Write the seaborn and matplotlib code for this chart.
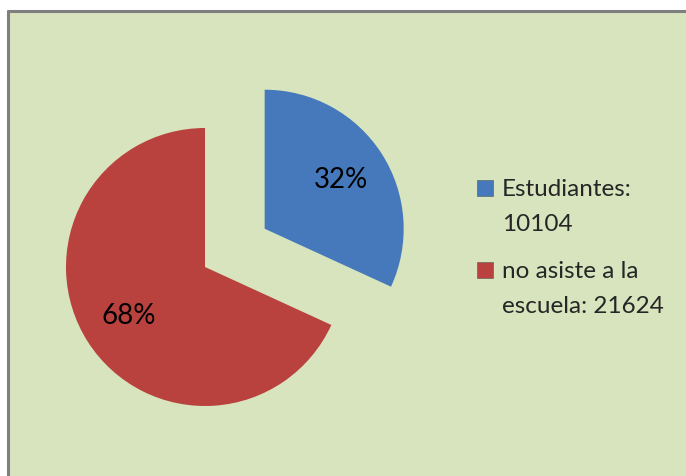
import matplotlib
matplotlib.use("Agg")
import matplotlib.pyplot as plt
import seaborn as sns
from matplotlib.patches import Rectangle

labels = ["Estudiantes:\n10104", "no asiste a la\nescuela: 21624"]
values = [10104, 21624]
colors = ["#4579BB", "#B9413E"]

sns.set_style("white")
plt.rcParams["font.family"] = ["Lato", "DejaVu Sans"]

W, H = 686, 476
fig = plt.figure(figsize=(W / 100, H / 100), dpi=100)
fig.patch.set_facecolor("white")

# chart background with top/left border
bg = Rectangle((8 / W, 0), 1, 1 - 11 / H, transform=fig.transFigure,
               facecolor="#D7E4BD", edgecolor="none", zorder=-10)
fig.patches.append(bg)
fig.add_artist(plt.Line2D([8 / W, 8 / W], [0, 1 - 11 / H], color="#7F7F7F",
                          lw=2.2, transform=fig.transFigure, zorder=-5))
fig.add_artist(plt.Line2D([8 / W, 1], [1 - 11 / H, 1 - 11 / H], color="#7F7F7F",
                          lw=2.2, transform=fig.transFigure, zorder=-5))

# pie axes: center (205, 267) px, radius 139 px
R = 139
cx, cy = 205, H - 267
a = 1.45
size = 2 * a * R
ax = fig.add_axes([(cx - size / 2) / W, (cy - size / 2) / H, size / W, size / H])
ax.set_zorder(1)

wedges, texts, autotexts = ax.pie(
    values, colors=colors, startangle=90, counterclock=False,
    explode=[0.51, 0], autopct="%1.0f%%", pctdistance=0.65,
    wedgeprops=dict(edgecolor="none"),
    textprops=dict(fontsize=20, color="black"), radius=1,
)
ax.set_xlim(-a, a)
ax.set_ylim(-a, a)
ax.set_aspect("equal")
ax.axis("off")
for w in wedges:
    w.set_clip_on(False)

# legend
marker_tops = [180, 262]
text_tops = [179, 261]
for mt, tt, lab, c in zip(marker_tops, text_tops, labels, colors):
    fig.add_artist(Rectangle((477 / W, (H - mt - 16) / H), 16 / W, 16 / H,
                             transform=fig.transFigure, facecolor=c,
                             edgecolor="#555555", lw=0.4, zorder=3))
    fig.text(502 / W, (H - tt) / H, lab, fontsize=17.5, va="top",
             ha="left", linespacing=1.8,
             transform=fig.transFigure)

fig.savefig("out.png", dpi=100, facecolor=fig.get_facecolor())
